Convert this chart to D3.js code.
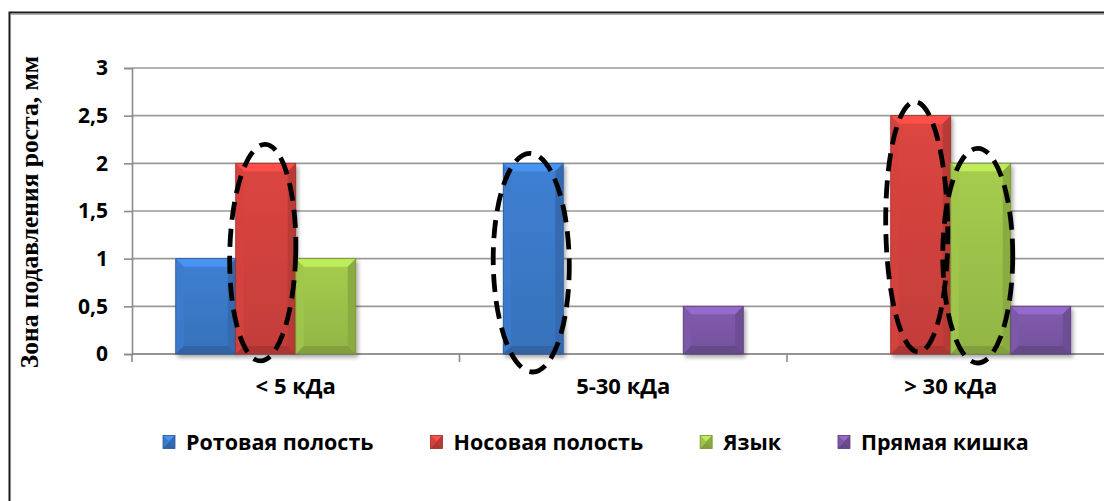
<!DOCTYPE html>
<html>
<head>
<meta charset="utf-8">
<script src="https://cdn.jsdelivr.net/npm/d3@7"></script>
<style>
  html, body { margin: 0; padding: 0; background: #fff; overflow: hidden; }
  svg { display: block; }
</style>
</head>
<body>
<svg id="chart" width="1104" height="501"></svg>
<script>
// ---- data ----
const categories = ["< 5 кДа", "5-30 кДа", "> 30 кДа"];
const seriesNames = ["Ротовая полость", "Носовая полость", "Язык", "Прямая кишка"];
const oralCavity = [1, 2, 0];
const nasalCavity = [2, 0, 2.5];
const tongue = [1, 0, 2];
const rectum = [0, 0.5, 0.5];
const yTickValues = [0, 0.5, 1, 1.5, 2, 2.5, 3];
const yTickLabels = ["0", "0,5", "1", "1,5", "2", "2,5", "3"];
const yAxisTitle = "Зона подавления роста, мм";
// bars circled with a dashed ring: [category index, series index]
const circledBars = [[0, 1], [1, 0], [2, 1], [2, 2]];

const seriesValues = [oralCavity, nasalCavity, tongue, rectum];

// ---- layout ----
const W = 1104, H = 501;
const plot = { left: 132, right: 1114.5, top: 68, bottom: 354 };
const palette = ["#3b79c8", "#d1423d", "#9dc24a", "#7b57a6"];
const sansFont = "'Open Sans', 'Noto Sans', sans-serif";
const serifFont = "'Liberation Serif', 'DejaVu Serif', serif";
// per-ring adjustments (offset from bar centre, extra radius, tilt)
const ringAdjust = [
  { dx: -3, dy: -6, px: 3, py: 13, rot: 1.3 },
  { dx: -2, dy: 4, px: 8, py: 14, rot: -0.8 },
  { dx: -4, dy: -8, px: 1, py: 6, rot: -0.8 },
  { dx: -3, dy: -3, px: 5, py: 12, rot: 0 }
];

const svg = d3.select("#chart");
const defs = svg.append("defs");

const shadow = defs.append("filter").attr("id", "barShadow")
  .attr("x", "-20%").attr("y", "-20%").attr("width", "150%").attr("height", "150%");
shadow.append("feGaussianBlur").attr("in", "SourceAlpha").attr("stdDeviation", 2.2).attr("result", "b");
shadow.append("feOffset").attr("in", "b").attr("dx", 1.5).attr("dy", 2.5).attr("result", "o");
shadow.append("feComponentTransfer").attr("in", "o").attr("result", "s")
  .append("feFuncA").attr("type", "linear").attr("slope", 0.35);
const merge = shadow.append("feMerge");
merge.append("feMergeNode").attr("in", "s");
merge.append("feMergeNode").attr("in", "SourceGraphic");

// body gradient per series
palette.forEach((c, i) => {
  const g = defs.append("linearGradient").attr("id", "body" + i)
    .attr("x1", 0).attr("y1", 0).attr("x2", 0).attr("y2", 1);
  g.append("stop").attr("offset", "0%").attr("stop-color", d3.color(c).brighter(0.15));
  g.append("stop").attr("offset", "100%").attr("stop-color", d3.color(c).darker(0.2));
});

// outer frame
svg.append("rect").attr("x", 9.5).attr("y", 12.5).attr("width", W + 20).attr("height", H + 20)
  .attr("fill", "#fff").attr("stroke", "#1a1a1a").attr("stroke-width", 2);
svg.append("line").attr("x1", 11).attr("x2", W).attr("y1", 14.5).attr("y2", 14.5)
  .attr("stroke", "#b0b0b0").attr("stroke-width", 1);

// ---- scales ----
const x0 = d3.scaleBand().domain(categories).range([plot.left, plot.right]).paddingInner(0).paddingOuter(0);
const x1 = d3.scaleBand().domain(seriesNames).range([0, x0.bandwidth()]).paddingInner(0).paddingOuter(0.729);
const y = d3.scaleLinear().domain([0, 3]).range([plot.bottom, plot.top]);

// gridlines
svg.append("g").selectAll("line").data(yTickValues).join("line")
  .attr("x1", plot.left).attr("x2", plot.right)
  .attr("y1", d => y(d)).attr("y2", d => y(d))
  .attr("stroke", "#9a9a9a").attr("stroke-width", 1.6);

// y axis
const yAxis = d3.axisLeft(y).tickValues(yTickValues)
  .tickFormat((d, i) => yTickLabels[i]).tickSize(8).tickPadding(16);
const gy = svg.append("g").attr("transform", `translate(${plot.left},0)`).call(yAxis);
gy.select(".domain").attr("stroke", "#8a8a8a").attr("stroke-width", 1.6);
gy.selectAll(".tick line").attr("stroke", "#8a8a8a").attr("stroke-width", 1.6);
gy.selectAll(".tick text").attr("font-family", sansFont).attr("font-weight", 700)
  .attr("font-size", 21).attr("fill", "#000");

// x axis (category labels)
const xAxis = d3.axisBottom(x0).tickSize(0).tickPadding(24);
const gx = svg.append("g").attr("transform", `translate(0,${plot.bottom})`).call(xAxis);
gx.select(".domain").remove();
gx.selectAll(".tick text").attr("font-family", sansFont).attr("font-weight", 700)
  .attr("font-size", 22).attr("fill", "#000");
// boundary ticks between categories
svg.append("g").selectAll("line")
  .data(categories.map(c => x0(c)).concat([plot.right])).join("line")
  .attr("x1", d => d).attr("x2", d => d)
  .attr("y1", plot.bottom).attr("y2", plot.bottom + 8)
  .attr("stroke", "#8a8a8a").attr("stroke-width", 1.6);
svg.append("line").attr("x1", plot.left).attr("x2", plot.right)
  .attr("y1", plot.bottom).attr("y2", plot.bottom)
  .attr("stroke", "#8a8a8a").attr("stroke-width", 1.6);

// ---- bevelled bars ----
function bevelBar(g, bx, by, bw, bh, si) {
  const base = d3.color(palette[si]);
  const b = Math.min(8, bh / 2, bw / 2);
  const xA = bx, xB = bx + bw, yA = by, yB = by + bh;
  g.append("rect").attr("x", xA).attr("y", yA).attr("width", bw).attr("height", bh)
    .attr("fill", `url(#body${si})`);
  const poly = (pts, fill) => g.append("polygon")
    .attr("points", pts.map(p => p.join(",")).join(" ")).attr("fill", fill);
  poly([[xA, yA], [xB, yA], [xB - b, yA + b], [xA + b, yA + b]], base.brighter(0.55));
  poly([[xA, yA], [xA + b, yA + b], [xA + b, yB - b], [xA, yB]], base.brighter(0.05).copy({ opacity: 0.9 }));
  poly([[xB, yA], [xB - b, yA + b], [xB - b, yB - b], [xB, yB]], base.darker(0.35));
  poly([[xA, yB], [xA + b, yB - b], [xB - b, yB - b], [xB, yB]], base.darker(0.55));
  g.append("rect").attr("x", xA).attr("y", yA).attr("width", bw).attr("height", bh)
    .attr("fill", "none").attr("stroke", base.darker(0.8)).attr("stroke-width", 0.8);
}

const barsG = svg.append("g");
categories.forEach((cat, ci) => {
  seriesNames.forEach((s, si) => {
    const v = seriesValues[si][ci];
    if (!v) return;
    const g = barsG.append("g").attr("filter", "url(#barShadow)");
    bevelBar(g, x0(cat) + x1(s), y(v), x1.bandwidth(), y(0) - y(v), si);
  });
});

// ---- dashed rings around highlighted bars ----
svg.append("g").selectAll("ellipse").data(circledBars).join("ellipse")
  .each(function ([ci, si], k) {
    const a = ringAdjust[k];
    const v = seriesValues[si][ci];
    const cx = x0(categories[ci]) + x1(seriesNames[si]) + x1.bandwidth() / 2 + a.dx;
    const cy = (y(v) + y(0)) / 2 + a.dy;
    d3.select(this)
      .attr("cx", cx).attr("cy", cy)
      .attr("rx", x1.bandwidth() / 2 + a.px)
      .attr("ry", (y(0) - y(v)) / 2 + a.py)
      .attr("transform", `rotate(${a.rot},${cx},${cy})`);
  })
  .attr("fill", "none").attr("stroke", "#000").attr("stroke-width", 4.8)
  .attr("stroke-dasharray", "18 9");

// ---- y axis title ----
svg.append("text")
  .attr("transform", `translate(38,212) rotate(-90)`)
  .attr("text-anchor", "middle")
  .attr("font-family", serifFont).attr("font-weight", 700).attr("font-size", 25.5)
  .attr("fill", "#000")
  .text(yAxisTitle);

// ---- legend ----
const legend = svg.append("g").attr("transform", "translate(163,442)");
let lx = 0;
seriesNames.forEach((name, i) => {
  const item = legend.append("g").attr("transform", `translate(${lx},0)`);
  const sw = item.append("g");
  bevelBar(sw, 0, -6.5, 12, 13, i);
  const t = item.append("text").attr("x", 23).attr("y", 0).attr("dy", "0.35em")
    .attr("font-family", sansFont).attr("font-weight", 700).attr("font-size", 21.5)
    .attr("fill", "#000").text(name);
  lx += 23 + t.node().getComputedTextLength() + 57;
});
</script>
</body>
</html>
